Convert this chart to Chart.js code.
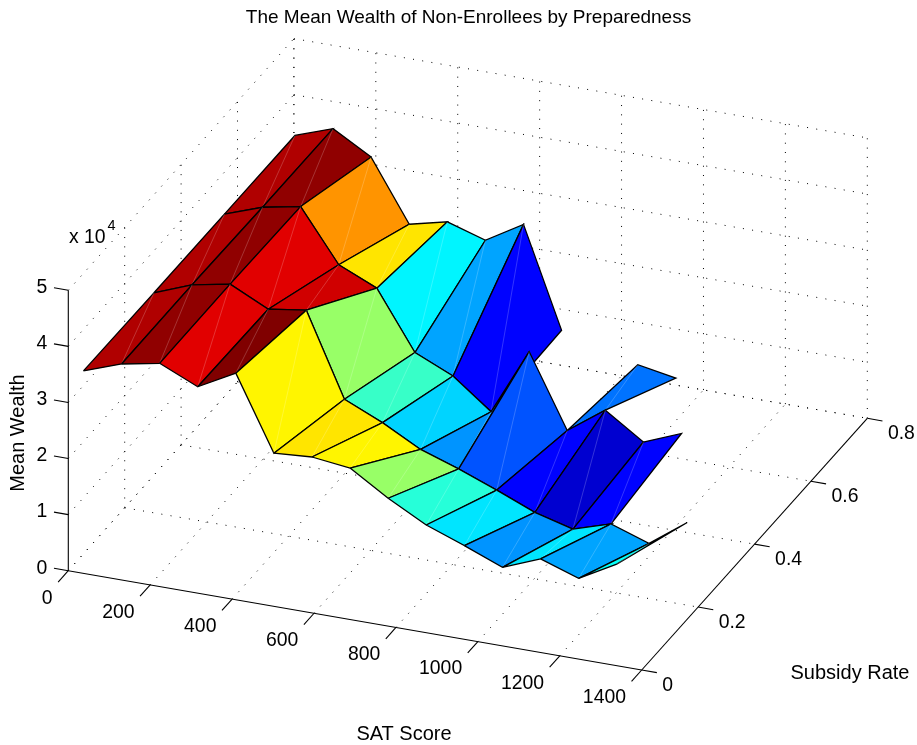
<!DOCTYPE html>
<html>
<head>
<meta charset="utf-8">
<title>The Mean Wealth of Non-Enrollees by Preparedness</title>
<script src="https://cdn.jsdelivr.net/npm/chart.js@4"></script>
<style>
    html, body { margin: 0; padding: 0; background: #fff; }
    canvas { display: block; }
</style>
</head>
<body>
<canvas id="surfaceChart" width="917" height="745"></canvas>
<script>
// Surface data, wealth in units of 10^4, null where the source has no cell
const satScores = [37, 130, 223, 316, 409, 502, 595, 688, 781, 874, 967, 1060, 1153, 1246, 1339];
const subsidyRates = [0, 0.25, 0.5, 0.75];
const wealthAt000 = [3.61, 3.85, 3.98, 3.68, 4.04, 2.73, 2.78, 2.70, 2.28, 1.92, 1.67, 1.40, 1.67, 1.44, 1.81];
const wealthAt025 = [3.60, 3.86, 3.99, 3.66, 3.76, 2.29, 1.99, 1.63, 1.40, 1.14, 0.86, 0.68, 0.89, 0.66, 1.15];
const wealthAt050 = [3.60, 3.84, 3.97, 3.05, 2.75, 1.72, 1.42, 0.90, 2.09, 0.80, 1.28, 0.83, 1.10, null, null];
const wealthAt075 = [3.60, 3.84, 3.45, 2.37, 2.53, 2.32, 2.72, 0.95, null, 0.57, 0.45, null, null, null, null];
const wealthRows = [wealthAt000, wealthAt025, wealthAt050, wealthAt075];

// Axis ticks
const satTicks = [0, 200, 400, 600, 800, 1000, 1200, 1400];
const subsidyTicks = [0, 0.2, 0.4, 0.6, 0.8];
const subsidyTickLabels = ['0', '0.2', '0.4', '0.6', '0.8'];
const wealthTicks = [0, 1, 2, 3, 4, 5];

const satMax = 1400;
const subsidyMax = 0.8;
const wealthMax = 5;

// Wealth values at the two ends of the colormap
const colorLow = 0.39;
const colorHigh = 4.05;

// Orthographic view of the 3D axes box, in canvas pixels
function project(sat, subsidy, wealth) {
    return {
        x: 68.3 + sat * 573.4 / satMax + subsidy * 225.6 / subsidyMax,
        y: 570.7 + sat * 99.3 / satMax - subsidy * 251.7 / subsidyMax - wealth * 280.4 / wealthMax
    };
}

// jet colormap with 64 steps
function jetColor(value, low, high) {
    const step = Math.min(63, Math.floor((value - low) / (high - low) * 64));
    const t = step / 63;
    const channel = (a, b) => Math.round(255 * Math.max(0, Math.min(1, a, b)));
    const r = channel(4 * t - 1.5, 4.5 - 4 * t);
    const g = channel(4 * t - 0.5, 3.5 - 4 * t);
    const b = channel(4 * t + 0.5, 2.5 - 4 * t);
    return `rgb(${r},${g},${b})`;
}

function lineDataset(points, color, width, dash) {
    return {
        data: points,
        showLine: true,
        fill: false,
        borderColor: color,
        borderWidth: width,
        borderDash: dash || [],
        borderCapStyle: 'butt',
        pointRadius: 0,
        tension: 0
    };
}

function gridLine(from, to) {
    return lineDataset([project(...from), project(...to)], '#000', 1, [1, 8.3]);
}

function buildGrid() {
    const lines = [];
    satTicks.forEach(sat => {
        if (sat < satMax) lines.push(gridLine([sat, 0, 0], [sat, subsidyMax, 0]));
        lines.push(gridLine([sat, subsidyMax, 0], [sat, subsidyMax, wealthMax]));
    });
    subsidyTicks.forEach(subsidy => {
        if (subsidy > 0) lines.push(gridLine([0, subsidy, 0], [satMax, subsidy, 0]));
        if (subsidy > 0) lines.push(gridLine([0, subsidy, 0], [0, subsidy, wealthMax]));
    });
    wealthTicks.forEach(wealth => {
        lines.push(gridLine([0, 0, wealth], [0, subsidyMax, wealth]));
        lines.push(gridLine([0, subsidyMax, wealth], [satMax, subsidyMax, wealth]));
    });
    return lines;
}

function axisLine(from, to) {
    return lineDataset([project(...from), project(...to)], '#000', 1.1);
}

function buildAxes() {
    const lines = [
        axisLine([0, 0, 0], [satMax, 0, 0]),
        axisLine([satMax, 0, 0], [satMax, subsidyMax, 0]),
        axisLine([0, 0, 0], [0, 0, wealthMax])
    ];
    satTicks.forEach(sat => lines.push(axisLine([sat, 0, 0], [sat, -0.036, 0])));
    subsidyTicks.forEach(subsidy => lines.push(axisLine([satMax, subsidy, 0], [satMax + 37, subsidy, 0])));
    wealthTicks.forEach(wealth => lines.push(axisLine([0, 0, wealth], [-35, 0, wealth])));
    return lines;
}

// Faces from the back corner to the front one, so nearer faces paint over farther ones
function buildSurface() {
    const faces = [];

    for (let j = subsidyRates.length - 2; j >= 0; j--) {
        for (let k = 0; k < satScores.length - 1; k++) {
            const corners = [[k, j], [k + 1, j], [k + 1, j + 1], [k, j + 1]];
            if (corners.some(([c, r]) => wealthRows[r][c] === null)) continue;

            const points = corners.map(([c, r]) => project(satScores[c], subsidyRates[r], wealthRows[r][c]));
            const color = jetColor(wealthRows[j][k + 1], colorLow, colorHigh);

            const face = lineDataset([...points, points[0]], '#000', 1.3);
            face.fill = 'shape';
            face.backgroundColor = color;
            faces.push(face);

            // Faint seam the renderer leaves across each face
            faces.push(lineDataset([points[1], points[3]], 'rgba(255,255,255,0.2)', 1));
        }
    }
    return faces;
}

// Tick labels and axis titles
const textPlugin = {
    id: 'axisText',
    afterDraw(chart) {
        const ctx = chart.ctx;
        const tickFont = '19.4px "Liberation Sans"';
        const labelFont = '20px "Liberation Sans"';
        const put = (text, x, y, align, font) => {
            ctx.font = font || tickFont;
            ctx.textAlign = align;
            ctx.textBaseline = 'middle';
            ctx.fillText(text, x, y);
        };

        ctx.save();
        ctx.fillStyle = '#000';

        satTicks.forEach(sat => {
            const p = project(sat, 0, 0);
            put(String(sat), p.x - 15.7, p.y + 27.5, 'right');
        });
        subsidyTicks.forEach((subsidy, i) => {
            const p = project(satMax, subsidy, 0);
            put(subsidyTickLabels[i], p.x + 20.6, p.y + 15.3, 'left');
        });
        wealthTicks.forEach(wealth => {
            const p = project(0, 0, wealth);
            put(String(wealth), 47.3, p.y - 2.5, 'right');
        });

        put('x 10', 69, 237.5, 'left');
        put('4', 107.5, 226, 'left', '14.5px "Liberation Sans"');

        put('SAT Score', 404, 734, 'center', labelFont);
        put('Subsidy Rate', 850, 673, 'center', labelFont);

        ctx.translate(18, 433);
        ctx.rotate(-Math.PI / 2);
        put('Mean Wealth', 0, 0, 'center', labelFont);
        ctx.restore();
    }
};

function createSurfaceChart() {
    const ctx = document.getElementById('surfaceChart').getContext('2d');

    // Chart.js paints the first dataset on top, so the list runs front to back
    const datasets = [...buildGrid(), ...buildAxes(), ...buildSurface()].reverse();

    new Chart(ctx, {
        type: 'scatter',
        data: { datasets: datasets },
        plugins: [textPlugin],
        options: {
            responsive: false,
            animation: false,
            layout: { padding: { left: 20 } },
            plugins: {
                legend: { display: false },
                tooltip: { enabled: false },
                title: {
                    display: true,
                    text: 'The Mean Wealth of Non-Enrollees by Preparedness',
                    color: '#000',
                    fullSize: false,
                    font: { family: '"Liberation Sans"', size: 19, weight: 'normal', lineHeight: 1.2 },
                    padding: { top: 6.6, bottom: 4.6 }
                }
            },
            scales: {
                x: { type: 'linear', display: false, min: 20, max: 917 },
                y: { type: 'linear', display: false, reverse: true, min: 34, max: 745 }
            }
        }
    });
}

window.addEventListener('DOMContentLoaded', createSurfaceChart);
</script>
</body>
</html>
